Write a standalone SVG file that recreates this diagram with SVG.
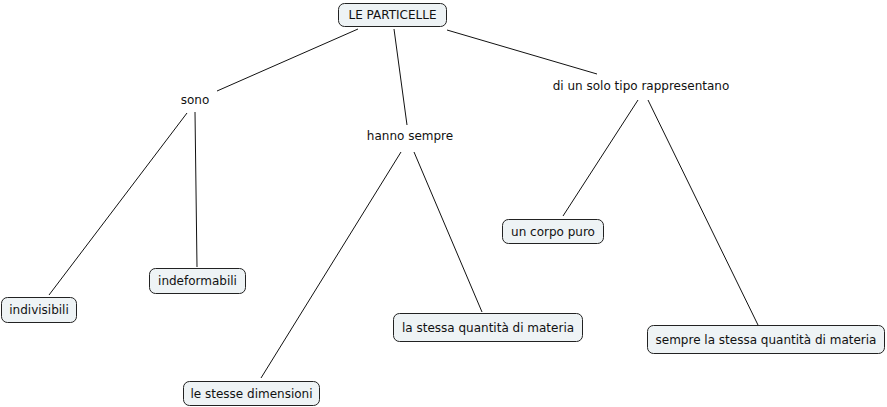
<svg xmlns="http://www.w3.org/2000/svg" width="887" height="407" viewBox="0 0 887 407">
<style>
.bg{fill:#ffffff}
.box{fill:#eef3f5;stroke:#222;stroke-width:1}
.t{font-family:"DejaVu Sans",Verdana,sans-serif;font-size:12px;fill:#111;text-anchor:middle;dominant-baseline:central}
.ln{stroke:#111;stroke-width:1;fill:none}
</style>
<rect class="bg" x="0" y="0" width="887" height="407"/>
<g id="connectors">
<line class="ln" x1="358" y1="29" x2="217" y2="91"/>
<line class="ln" x1="394" y1="29" x2="407" y2="125"/>
<line class="ln" x1="447" y1="30" x2="597" y2="74"/>
<line class="ln" x1="187" y1="113" x2="49" y2="295"/>
<line class="ln" x1="195" y1="112" x2="197" y2="267"/>
<line class="ln" x1="401" y1="152" x2="261" y2="378"/>
<line class="ln" x1="414" y1="152" x2="482" y2="312"/>
<line class="ln" x1="638" y1="100" x2="563" y2="216"/>
<line class="ln" x1="648" y1="100" x2="758" y2="325"/>
</g>
<g id="n-particelle"><rect class="box" x="338.5" y="3.5" width="108" height="23" rx="6"/><text class="t" x="392.5" y="15">LE PARTICELLE</text></g>
<g id="l-sono"><text class="t" x="195" y="100">sono</text></g>
<g id="l-hanno"><text class="t" x="410" y="136">hanno sempre</text></g>
<g id="l-tipo"><text class="t" x="641" y="86">di un solo tipo rappresentano</text></g>
<g id="n-indivisibili"><rect class="box" x="1.5" y="297.5" width="75" height="25" rx="6"/><text class="t" x="39" y="310">indivisibili</text></g>
<g id="n-indeformabili"><rect class="box" x="149.5" y="268.5" width="96" height="25" rx="6"/><text class="t" x="197.5" y="281">indeformabili</text></g>
<g id="n-dimensioni"><rect class="box" x="183.5" y="381.5" width="136" height="24" rx="6"/><text class="t" x="251.5" y="393.5">le stesse dimensioni</text></g>
<g id="n-quantita"><rect class="box" x="393.5" y="313.5" width="189" height="28" rx="6"/><text class="t" x="488" y="327.5">la stessa quantità di materia</text></g>
<g id="n-corpo"><rect class="box" x="502.5" y="219.5" width="101" height="24" rx="6"/><text class="t" x="553" y="231.5">un corpo puro</text></g>
<g id="n-sempre"><rect class="box" x="647.5" y="325.5" width="237" height="28" rx="6"/><text class="t" x="766" y="339.5">sempre la stessa quantità di materia</text></g>
</svg>
